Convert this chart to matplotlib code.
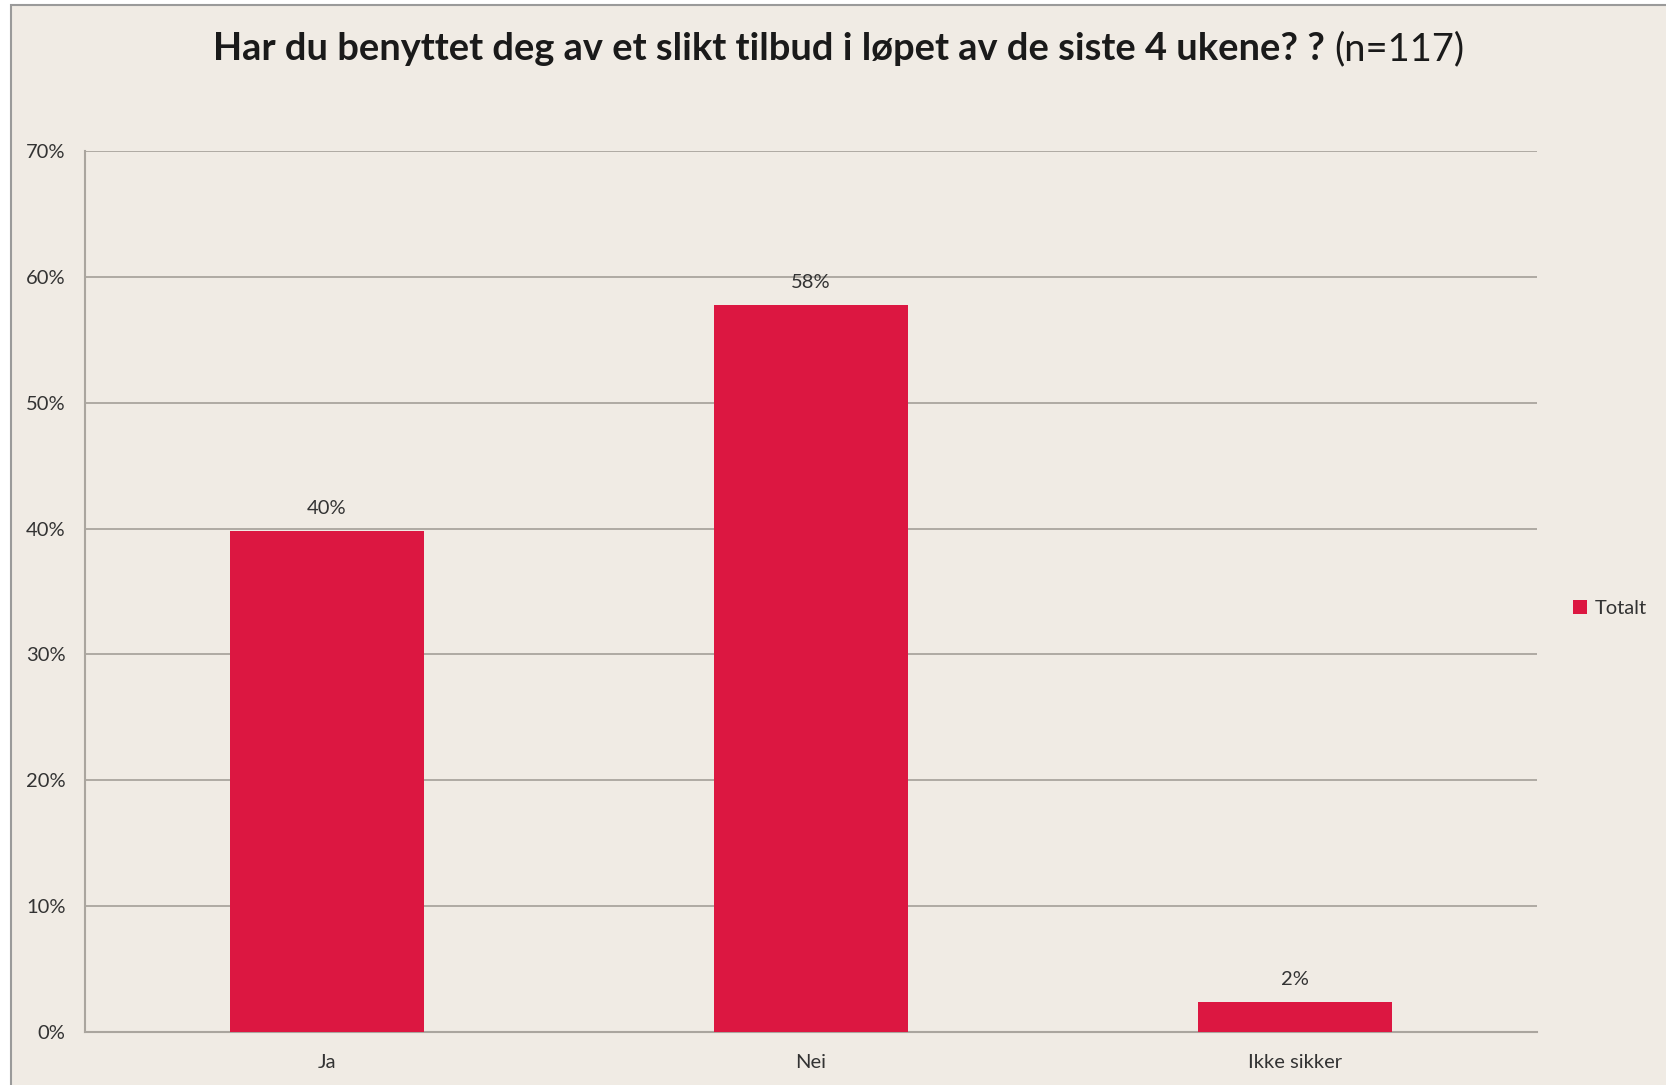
import matplotlib.pyplot as plt
import matplotlib.patches as patches
from matplotlib.ticker import FuncFormatter

categories = ['Ja', 'Nei', 'Ikke sikker']
values = [39.8, 57.8, 2.4]
value_labels = ['40%', '58%', '2%']
yticks = [0, 10, 20, 30, 40, 50, 60, 70]

bg = '#f0ebe4'
bar_color = '#dc1741'
grid_color = '#aaa59e'
text_color = '#333333'

plt.rcParams['font.family'] = ['Lato', 'DejaVu Sans']

fig = plt.figure(figsize=(16.66, 10.85), dpi=100)
fig.patch.set_facecolor('white')
W, H = 1666, 1085

# outer chart frame (cut off at right and bottom edges)
frame = patches.Rectangle((11 / W, -0.01), 1.02, 1 - 5 / H + 0.01,
                          transform=fig.transFigure, facecolor=bg,
                          edgecolor='#9a9a9a', linewidth=1.5, zorder=-10)
fig.patches.append(frame)

ax = fig.add_axes([85 / W, 1 - 1032 / H, (1537 - 85) / W, (1032 - 151) / H])
ax.set_zorder(1)
ax.set_facecolor(bg)
x = range(len(categories))
bars = ax.bar(x, values, width=0.4, color=bar_color, zorder=3, label='Totalt')
ax.set_xlim(-0.5, len(categories) - 0.5)
ax.set_ylim(0, 70)
ax.set_yticks(yticks)
ax.yaxis.set_major_formatter(FuncFormatter(lambda v, p: f'{v:.0f}%'))
ax.set_xticks(list(x))
ax.set_xticklabels(categories)
ax.grid(axis='y', color=grid_color, linewidth=1.3, zorder=0)
ax.tick_params(axis='both', length=0, labelsize=14.5, labelcolor=text_color)
ax.tick_params(axis='y', pad=14)
ax.tick_params(axis='x', pad=16)
for s in ['top', 'right']:
    ax.spines[s].set_visible(False)
for s in ['left', 'bottom']:
    ax.spines[s].set_color(grid_color)
    ax.spines[s].set_linewidth(1.5)

for b, lab in zip(bars, value_labels):
    ax.annotate(lab, (b.get_x() + b.get_width() / 2, b.get_height()),
                xytext=(0, 16), textcoords='offset points', ha='center',
                va='center', fontsize=14.5, color=text_color)

leg = ax.legend(loc='center left', bbox_to_anchor=(1.012, 0.481), frameon=False,
                fontsize=14.5, handlelength=0.7, handleheight=0.7,
                handletextpad=0.4, labelcolor=text_color)

# title: bold question + regular sample size
t1 = fig.text(0.5, 1 - 49 / H, 'Har du benyttet deg av et slikt tilbud i løpet av de siste 4 ukene? ? ',
              fontsize=27.4, fontweight='bold', ha='left', va='center', color='#1a1a1a')
t2 = fig.text(0.5, 1 - 49 / H, '(n=117)', fontsize=27.4, ha='left', va='center', color='#1a1a1a')
fig.canvas.draw()
r = fig.canvas.get_renderer()
w1 = t1.get_window_extent(r).width
w2 = t2.get_window_extent(r).width
x0 = 839 - (w1 + w2) / 2
t1.set_x(x0 / W)
t2.set_x((x0 + w1) / W)

fig.savefig('out.png', dpi=100, facecolor=fig.get_facecolor())
